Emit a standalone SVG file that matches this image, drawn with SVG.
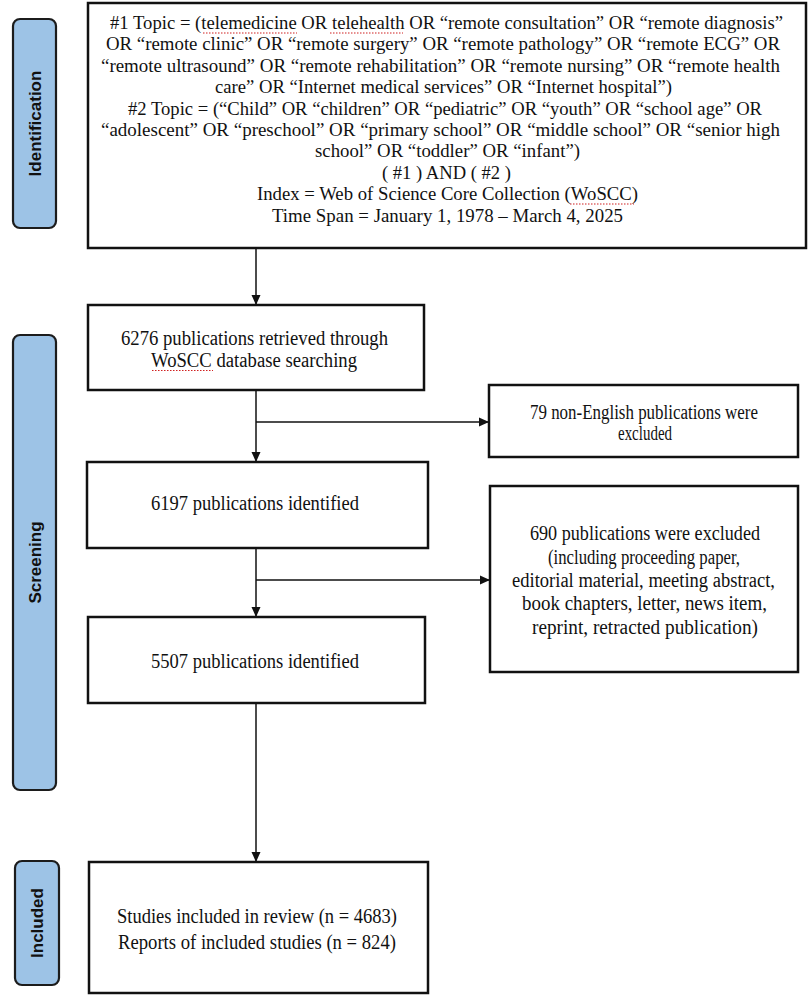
<svg xmlns="http://www.w3.org/2000/svg" width="810" height="995" viewBox="0 0 810 995">
<defs>
<marker id="ah" markerWidth="10" markerHeight="10" refX="10" refY="5" orient="auto" markerUnits="userSpaceOnUse">
<path d="M0,0.5 L10,5 L0,9.5 Z" fill="#111"/>
</marker>
</defs>
<style>
.bg{fill:#ffffff}
.box{fill:#ffffff;stroke:#111;stroke-width:2.5}
.lab{fill:#9DC3E6;stroke:#1c1c1c;stroke-width:2.2}
.lt{font-family:"Liberation Sans",Arial,sans-serif;font-weight:bold;font-size:17px;fill:#111;text-anchor:middle}
.t{font-family:"Liberation Serif","Times New Roman",serif;font-size:19.5px;fill:#111}
.t20{font-family:"Liberation Serif","Times New Roman",serif;font-size:20px;fill:#111}
.c{fill:none;stroke:#111;stroke-width:1.5}
.sp{fill:none;stroke:#d02020;stroke-width:1.2;stroke-dasharray:1.5 1.5}
</style>
<rect class="bg" x="0" y="0" width="810" height="995"/>

<g id="label-identification">
<rect class="lab" x="13" y="19" width="43" height="209" rx="7"/>
<text class="lt" transform="translate(41,123.5) rotate(-90)">Identification</text>
</g>
<g id="label-screening">
<rect class="lab" x="13" y="335" width="43" height="455" rx="7"/>
<text class="lt" transform="translate(41,562.5) rotate(-90)">Screening</text>
</g>
<g id="label-included">
<rect class="lab" x="15" y="861" width="44" height="124" rx="7"/>
<text class="lt" transform="translate(43,923) rotate(-90)">Included</text>
</g>

<g id="connectors">
<line class="c" x1="256" y1="248" x2="256" y2="305" marker-end="url(#ah)"/>
<line class="c" x1="256" y1="390" x2="256" y2="462" marker-end="url(#ah)"/>
<line class="c" x1="256" y1="422" x2="489" y2="422" marker-end="url(#ah)"/>
<line class="c" x1="256" y1="548" x2="256" y2="617" marker-end="url(#ah)"/>
<line class="c" x1="256" y1="580" x2="490" y2="580" marker-end="url(#ah)"/>
<line class="c" x1="256" y1="703" x2="256" y2="862" marker-end="url(#ah)"/>
</g>

<g id="node-search">
<rect class="box" x="88" y="3" width="718" height="245"/>
<text class="t" x="110" y="29" textLength="673" lengthAdjust="spacingAndGlyphs">#1 Topic = (telemedicine OR telehealth OR “remote consultation” OR “remote diagnosis”</text>
<text class="t" x="106" y="50.4" textLength="674" lengthAdjust="spacingAndGlyphs">OR “remote clinic” OR “remote surgery” OR “remote pathology” OR “remote ECG” OR</text>
<text class="t" x="101" y="71.8" textLength="679" lengthAdjust="spacingAndGlyphs">“remote ultrasound” OR “remote rehabilitation” OR “remote nursing” OR “remote health</text>
<text class="t" x="215" y="93.2" textLength="457" lengthAdjust="spacingAndGlyphs">care” OR “Internet medical services” OR “Internet hospital”)</text>
<text class="t" x="128" y="114.6" textLength="634" lengthAdjust="spacingAndGlyphs">#2 Topic = (“Child” OR “children” OR “pediatric” OR “youth” OR “school age” OR</text>
<text class="t" x="101" y="136" textLength="679" lengthAdjust="spacingAndGlyphs">“adolescent” OR “preschool” OR “primary school” OR “middle school” OR “senior high</text>
<text class="t" x="315" y="157.4" textLength="265" lengthAdjust="spacingAndGlyphs">school” OR “toddler” OR “infant”)</text>
<text class="t" x="382" y="178.8" textLength="129" lengthAdjust="spacingAndGlyphs">( #1 ) AND ( #2 )</text>
<text class="t" x="257" y="200.2" textLength="381" lengthAdjust="spacingAndGlyphs">Index = Web of Science Core Collection (WoSCC)</text>
<text class="t" x="272" y="221.6" textLength="351" lengthAdjust="spacingAndGlyphs">Time Span = January 1, 1978 – March 4, 2025</text>
<path class="sp" d="M203,33 H297 M330,33 H403 M570,204 H634"/>
</g>

<g id="node-retrieved">
<rect class="box" x="88" y="305" width="336" height="85"/>
<text class="t20" x="121" y="345" textLength="267" lengthAdjust="spacingAndGlyphs">6276 publications retrieved through</text>
<text class="t20" x="151" y="367" textLength="206" lengthAdjust="spacingAndGlyphs">WoSCC database searching</text>
<path class="sp" d="M152,370.5 H213"/>
</g>

<g id="node-nonenglish">
<rect class="box" x="489" y="385" width="309" height="72"/>
<text class="t20" x="530" y="419" textLength="228" lengthAdjust="spacingAndGlyphs">79 non-English publications were</text>
<text class="t20" x="618" y="440" textLength="54" lengthAdjust="spacingAndGlyphs">excluded</text>
</g>

<g id="node-6197">
<rect class="box" x="87" y="462" width="341" height="86"/>
<text class="t20" x="151" y="510" textLength="208" lengthAdjust="spacingAndGlyphs">6197 publications identified</text>
</g>

<g id="node-690">
<rect class="box" x="490" y="486" width="308" height="186"/>
<text class="t20" x="530" y="540" textLength="230" lengthAdjust="spacingAndGlyphs">690 publications were excluded</text>
<text class="t20" x="548" y="564" textLength="192" lengthAdjust="spacingAndGlyphs">(including proceeding paper,</text>
<text class="t20" x="512" y="587" textLength="263" lengthAdjust="spacingAndGlyphs">editorial material, meeting abstract,</text>
<text class="t20" x="522" y="610" textLength="245" lengthAdjust="spacingAndGlyphs">book chapters, letter, news item,</text>
<text class="t20" x="532" y="634" textLength="226" lengthAdjust="spacingAndGlyphs">reprint, retracted publication)</text>
</g>

<g id="node-5507">
<rect class="box" x="88" y="617" width="337" height="86"/>
<text class="t20" x="151" y="668" textLength="208" lengthAdjust="spacingAndGlyphs">5507 publications identified</text>
</g>

<g id="node-included">
<rect class="box" x="89" y="862" width="339" height="131"/>
<text class="t20" x="117" y="923" textLength="280" lengthAdjust="spacingAndGlyphs">Studies included in review (n = 4683)</text>
<text class="t20" x="118" y="949" textLength="278" lengthAdjust="spacingAndGlyphs">Reports of included studies (n = 824)</text>
</g>
</svg>
